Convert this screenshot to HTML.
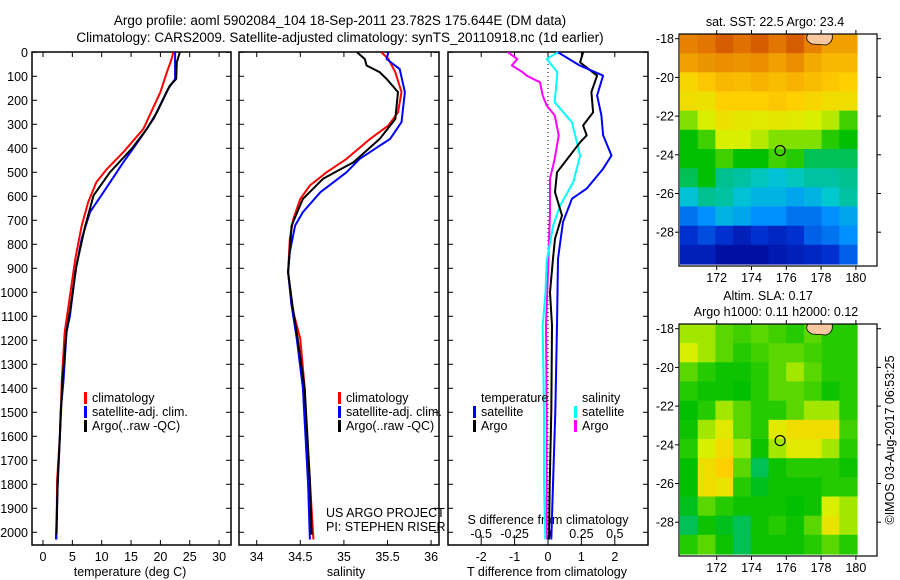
<!DOCTYPE html>
<html><head><meta charset="utf-8"><style>
body{margin:0;background:#fff;}
svg{display:block;font-family:"Liberation Sans",sans-serif;}
</style></head><body>
<svg id="fig" width="900" height="580" viewBox="0 0 900 580" xmlns="http://www.w3.org/2000/svg">
<text x="340" y="25" font-size="13.5" text-anchor="middle">Argo profile: aoml 5902084_104 18-Sep-2011 23.782S 175.644E (DM data)</text>
<text x="340" y="42" font-size="13.5" text-anchor="middle">Climatology: CARS2009. Satellite-adjusted climatology: synTS_20110918.nc (1d earlier)</text>
<g id="g"></g>
</svg>
<script>
// ---------- data ----------
const tempClimDepth=[0,28,83,166,319,416,486,541,624,722,861,1014,1166,1368,1590,1785,2030];
const tempClim=[22.2,21.9,21.1,20.0,17.1,13.7,10.9,9.1,7.7,6.6,5.5,4.6,3.7,3.2,2.9,2.4,2.3];
const tempSatDepth=[0,111,153,278,361,458,583,666,777,916,1097,1166,1368,1500,1650,1800,2030];
const tempSat=[22.5,22.5,21.3,18.8,16.5,13.7,10.3,8.0,6.6,5.5,4.6,4.0,3.5,3.0,2.8,2.5,2.2];
const tempArgoDepth=[0,42,111,139,250,319,402,500,597,722,888,1027,1166,1368,1590,1785,2010];
const tempArgo=[23.3,22.8,22.7,21.6,19.4,17.7,15.1,11.4,8.6,7.2,5.7,4.9,4.0,3.3,2.9,2.5,2.3];

const salClimDepth=[0,28,83,166,250,305,361,444,500,555,611,694,777,916,1055,1194,1400,1590,1785,2030];
const salClim=[35.43,35.51,35.59,35.66,35.62,35.51,35.30,35.03,34.80,34.61,34.50,34.42,34.38,34.36,34.40,34.50,34.55,34.57,34.61,34.65];
const salSatDepth=[0,28,70,166,291,361,444,500,583,666,722,833,916,1055,1194,1400,1600,1800,2030];
const salSat=[35.51,35.49,35.64,35.70,35.66,35.53,35.18,35.03,34.73,34.53,34.44,34.38,34.36,34.40,34.46,34.53,34.56,34.59,34.61];
const salArgoDepth=[0,28,55,83,111,166,278,361,458,527,611,722,916,1055,1194,1400,1590,1785,2010];
const salArgo=[35.15,35.24,35.26,35.41,35.49,35.62,35.59,35.41,35.11,34.76,34.53,34.40,34.36,34.41,34.47,34.55,34.58,34.61,34.63];

const dTSatDepth=[0,55,97,180,263,346,430,485,568,610,707,860,1138,1500,1800,2030];
const dTSat=[0.3,0.95,1.65,1.47,1.6,1.65,1.9,1.65,1.16,0.72,0.45,0.3,0.27,0.22,0.15,0.1];
const dTArgoDepth=[0,42,97,166,250,305,346,375,500,583,680,777,860,1000,1138,1500,1800,2030];
const dTArgo=[1.05,0.96,1.47,1.3,1.35,1.05,1.16,0.96,0.27,0.21,0.42,0.21,0.15,0.06,0.12,0.1,0.05,0.03];
const dSSatDepth=[0,28,83,208,292,430,540,640,720,870,1010,1140,1500,1800,2030];
const dSSat=[0.075,-0.01,0.07,0.05,0.18,0.24,0.19,0.09,0.04,-0.01,-0.02,-0.04,-0.03,-0.03,-0.02];
const dSArgoDepth=[0,28,55,83,97,125,180,222,263,346,444,527,666,916,1140,1500,1800,2030];
const dSArgo=[-0.3,-0.23,-0.27,-0.19,-0.16,-0.06,-0.04,-0.01,0.05,0.08,0.05,0.015,0.015,0,-0.015,-0.01,-0.01,-0.01];

const depthTicks=[0,100,200,300,400,500,600,700,800,900,1000,1100,1200,1300,1400,1500,1600,1700,1800,1900,2000];
const tempTicks=[0,5,10,15,20,25,30];
const salTicks=[34,34.5,35,35.5,36];
const dTTicks=[-2,-1,0,1,2];
const dSTicks=[-0.5,-0.25,0,0.25,0.5];
const dSTickLabels=['-0.5','-0.25','0','0.25','0.5'];

const lonTicks=[172,174,176,178,180];
const latTicks=[-18,-20,-22,-24,-26,-28];
const argoLon=175.644, argoLat=-23.782;
const sstGrid=[
[.85,.87,.9,.88,.9,.87,.9,.85,.8,.8],
[.8,.82,.83,.82,.83,.8,.83,.78,.75,.75],
[.68,.72,.75,.74,.76,.74,.76,.74,.72,.7],
[.66,.65,.7,.7,.7,.72,.7,.68,.66,.66],
[.55,.6,.65,.63,.62,.63,.62,.6,.58,.5],
[.45,.5,.6,.6,.58,.55,.55,.55,.48,.45],
[.45,.45,.5,.45,.45,.5,.48,.42,.42,.42],
[.42,.45,.4,.38,.35,.32,.35,.38,.38,.4],
[.32,.4,.38,.32,.3,.3,.28,.3,.33,.38],
[.22,.25,.3,.28,.25,.25,.22,.22,.25,.28],
[.15,.18,.15,.1,.15,.12,.15,.2,.22,.25],
[.1,.1,.05,.05,.05,.08,.1,.12,.15,.2]];
const slaGrid=[
[.57,.57,.52,.5,.52,.5,.48,.52,.48,.48],
[.6,.57,.52,.48,.5,.52,.52,.5,.48,.48],
[.52,.48,.46,.46,.48,.52,.57,.52,.48,.48],
[.48,.46,.46,.45,.48,.52,.52,.5,.46,.48],
[.45,.48,.57,.52,.48,.48,.52,.57,.57,.48],
[.46,.57,.62,.52,.48,.62,.66,.66,.66,.5],
[.48,.6,.66,.57,.46,.57,.62,.62,.57,.48],
[.45,.66,.7,.52,.42,.46,.48,.48,.48,.46],
[.45,.66,.64,.48,.44,.46,.46,.46,.48,.48],
[.44,.52,.48,.46,.46,.46,.45,.46,.6,.57],
[.42,.46,.44,.42,.46,.48,.46,.52,.64,.57],
[.48,.52,.46,.42,.46,.46,.46,.48,.52,.48]];

// ---------- helpers ----------
const NS='http://www.w3.org/2000/svg';
const G=document.getElementById('g');
function mk(tag,attrs,parent){const e=document.createElementNS(NS,tag);for(const k in attrs)e.setAttribute(k,attrs[k]);(parent||G).appendChild(e);return e;}
const yD=d=>52.3+d*0.24;
const xT=t=>43+t*5.87;
const xS=s=>256.7+(s-34)*87.2;
const xDT=t=>548+t*33.4;
const xDS=s=>548+s*133.6;

function frame(x0,x1,name){
  const r=mk('rect',{x:x0,y:52,width:x1-x0,height:493,fill:'none',stroke:'#000','stroke-width':1.5});
  
  
  depthTicks.forEach(d=>{
    mk('line',{x1:x0,x2:x0+5,y1:yD(d),y2:yD(d),stroke:'#000'});
    mk('line',{x1:x1-5,x2:x1,y1:yD(d),y2:yD(d),stroke:'#000'});
  });
}
function xticks(vals,fx,x0labels,labels,title,tx,name){
  vals.forEach((v,i)=>{
    const x=fx(v);
    mk('line',{x1:x,x2:x,y1:52,y2:57,stroke:'#000'});
    mk('line',{x1:x,x2:x,y1:540,y2:545,stroke:'#000'});
    const t=mk('text',{x:x,y:561,'font-size':12.5,'text-anchor':'middle'});
    t.textContent=labels?labels[i]:String(v);
    
    
  });
  const t=mk('text',{x:tx,y:576,'font-size':12.5,'text-anchor':'middle'});
  t.textContent=title;
  
  
}
function line(depths,vals,fx,color,name,w){
  const p=depths.map((d,i)=>fx(vals[i]).toFixed(1)+','+yD(d).toFixed(1)).join(' ');
  const e=mk('polyline',{points:p,fill:'none',stroke:color,'stroke-width':w||2,'stroke-linejoin':'round'});
  
  
}
function legend(x,y,items,name){
  items.forEach((it,i)=>{
    mk('rect',{x:x,y:y+i*14-6,width:3,height:12,fill:it[0]});
    const t=mk('text',{x:x+8,y:y+i*14+4,'font-size':12.5});
    t.textContent=it[1];
    
    
  });
}

// ---------- panel 1: temperature ----------
frame(32,231,'temperature-panel');
depthTicks.forEach(d=>{const t=mk('text',{x:28,y:yD(d)+4.5,'font-size':12.5,'text-anchor':'end'});t.textContent=String(d);

});
xticks(tempTicks,xT,null,null,'temperature (deg C)',130,'temperature');
line(tempClimDepth,tempClim,xT,'#ff0000','temp-climatology-line');
line(tempSatDepth,tempSat,xT,'#0000ff','temp-satellite-line');
line(tempArgoDepth,tempArgo,xT,'#000000','temp-argo-line');
legend(84,398,[['#f00','climatology'],['#00f','satellite-adj. clim.'],['#000','Argo(..raw -QC)']],'temp-legend');

// ---------- panel 2: salinity ----------
frame(239,439,'salinity-panel');
xticks(salTicks,xS,null,null,'salinity',346,'salinity');
line(salClimDepth,salClim,xS,'#ff0000','sal-climatology-line');
line(salSatDepth,salSat,xS,'#0000ff','sal-satellite-line');
line(salArgoDepth,salArgo,xS,'#000000','sal-argo-line');
legend(338,398,[['#f00','climatology'],['#00f','satellite-adj. clim.'],['#000','Argo(..raw -QC)']],'sal-legend');
[['US ARGO PROJECT',517],['PI: STEPHEN RISER',531]].forEach(a=>{const t=mk('text',{x:326,y:a[1],'font-size':12.5});t.textContent=a[0];

});

// ---------- panel 3: differences ----------
frame(448,648,'difference-panel');
mk('line',{x1:548,x2:548,y1:52,y2:545,stroke:'#000','stroke-dasharray':'1,3'});
xticks(dTTicks,xDT,null,null,'T difference from climatology',547,'t-difference');
dSTicks.forEach((v,i)=>{const x=xDS(v);mk('line',{x1:x,x2:x,y1:535,y2:540,stroke:'#000'});
const t=mk('text',{x:x,y:538,'font-size':12.5,'text-anchor':'middle'});t.textContent=dSTickLabels[i];

});
{const t=mk('text',{x:548,y:524,'font-size':12.5,'text-anchor':'middle'});t.textContent='S difference from climatology';

}
line(dSArgoDepth,dSArgo,xDS,'#ff00ff','s-argo-diff-line');
line(dSSatDepth,dSSat,xDS,'#00ffff','s-satellite-diff-line');
line(dTArgoDepth,dTArgo,xDT,'#000000','t-argo-diff-line');
line(dTSatDepth,dTSat,xDT,'#0000ff','t-satellite-diff-line');
{const t=mk('text',{x:481,y:402,'font-size':12.5});t.textContent='temperature';

}
{const t=mk('text',{x:582,y:402,'font-size':12.5});t.textContent='salinity';

}
legend(473,412,[['#00f','satellite'],['#000','Argo']],'diff-legend-temp');
legend(574,412,[['#0ff','satellite'],['#f0f','Argo']],'diff-legend-sal');

// ---------- maps ----------
const cstops=[[0,[0,0,140]],[.15,[0,48,208]],[.25,[0,144,255]],[.33,[0,200,208]],[.4,[0,192,144]],[.45,[0,192,0]],[.55,[128,224,0]],[.6,[216,240,0]],[.7,[255,208,0]],[.8,[240,160,0]],[.88,[224,112,0]],[.95,[192,48,0]],[1,[170,20,0]]];
function cmap(v){for(let i=1;i<cstops.length;i++){if(v<=cstops[i][0]){const a=cstops[i-1],b=cstops[i],f=(v-a[0])/(b[0]-a[0]);return 'rgb('+a[1].map((c,k)=>Math.round(c+(b[1][k]-c)*f)).join(',')+')';}}return 'rgb(170,20,0)';}
function map(y0,grid,name){
  const xL=680,xR=857,cw=(xR-xL)/10,ch=230/12;
  const lonX=l=>716.7+(l-172)*17.4, latY=l=>y0+4.7+(-18-l)*19.35;
  grid.forEach((row,r)=>row.forEach((v,c)=>{
    const e=mk('rect',{x:(xL+c*cw).toFixed(1),y:(y0+r*ch).toFixed(1),width:(cw+0.6).toFixed(1),height:(ch+0.6).toFixed(1),fill:cmap(v)});
    
    
  }));
  mk('path',{d:`M808 ${y0} L832 ${y0} Q834 ${y0+8} 826 ${y0+11} L812 ${y0+10} Q804 ${y0+6} 808 ${y0} Z`,fill:'#f8c8a0',stroke:'#000','stroke-width':0.8});
  const f=mk('rect',{x:679,y:y0,width:198,height:232,fill:'none',stroke:'#000','stroke-width':1.2});
  
  
  lonTicks.forEach(l=>{const x=lonX(l);mk('line',{x1:x,x2:x,y1:y0-4,y2:y0,stroke:'#000'});mk('line',{x1:x,x2:x,y1:y0+232,y2:y0+236,stroke:'#000'});
    const t=mk('text',{x:x,y:y0+248,'font-size':12.5,'text-anchor':'middle'});t.textContent=String(l);
    
    });
  latTicks.forEach(l=>{const y=latY(l);mk('line',{x1:675,x2:679,y1:y,y2:y,stroke:'#000'});mk('line',{x1:877,x2:881,y1:y,y2:y,stroke:'#000'});
    const t=mk('text',{x:674,y:y+4.5,'font-size':12.5,'text-anchor':'end'});t.textContent=String(l);
    
    });
  const c=mk('circle',{cx:lonX(argoLon),cy:latY(argoLat),r:5,fill:'none',stroke:'#000','stroke-width':1.2});
  
  
}
map(34,sstGrid,'sst-map');
map(324,slaGrid,'sla-map');
[['sat. SST: 22.5 Argo: 23.4',775,26,'sst-map-title'],['Altim. SLA: 0.17',768,300,'sla-map-title'],['Argo h1000: 0.11 h2000: 0.12',776,316,'sla-map-subtitle']].forEach(a=>{
  const t=mk('text',{x:a[1],y:a[2],'font-size':12.5,'text-anchor':'middle'});t.textContent=a[0];
  
  });
{const t=mk('text',{x:0,y:0,'font-size':12.5,'text-anchor':'middle',transform:'translate(894,440) rotate(-90)'});t.textContent='©IMOS 03-Aug-2017 06:53:25';

}
</script>
</body></html>
